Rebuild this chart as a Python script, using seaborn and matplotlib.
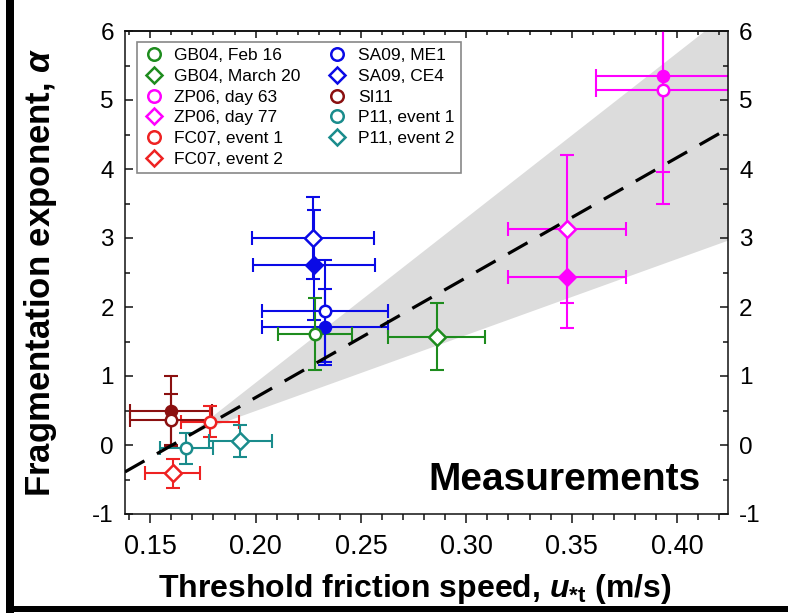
import matplotlib
matplotlib.use("Agg")
import matplotlib.pyplot as plt
import seaborn as sns
import numpy as np
from matplotlib.lines import Line2D
from matplotlib.patches import Rectangle
from matplotlib.ticker import MultipleLocator

# ---------------- data ----------------
labels = ["GB04, Feb 16", "GB04, March 20", "ZP06, day 63", "ZP06, day 77",
          "FC07, event 1", "FC07, event 2", "SA09, ME1", "SA09, CE4",
          "SI11", "P11, event 1", "P11, event 2"]
# open symbols (legend entries)
open_x = [0.228, 0.286, 0.3934, 0.3478, 0.1785, 0.1607, 0.233, 0.2273, 0.160, 0.1671, 0.1927]
open_y = [1.61, 1.57, 5.14, 3.13, 0.34, -0.41, 1.94, 3.00, 0.36, -0.05, 0.06]
open_xerr = [0.0176, 0.023, 0.0318, 0.0282, 0.0138, 0.013, 0.030, 0.029, 0.0195, 0.0127, 0.015]
open_yerr = [0.52, 0.49, 1.65, 1.07, 0.23, 0.21, 0.74, 0.60, 0.375, 0.23, 0.23]

# filled symbols (no legend entry)
filled_src = ["ZP06, day 63", "ZP06, day 77", "SA09, ME1", "SA09, CE4", "SI11"]
filled_x = [0.3934, 0.3478, 0.233, 0.2278, 0.160]
filled_y = [5.35, 2.43, 1.71, 2.61, 0.50]
filled_xerr = [0.0318, 0.0282, 0.030, 0.029, 0.0195]
filled_yerr = [1.39, 0.73, 0.55, 0.80, 0.50]

# model band & fit line (end points)
band_x = [0.168, 0.425]
band_lower = [0.15, 2.98]
band_upper = [0.15, 6.29]
fit_x = [0.138, 0.425]
fit_y = [-0.39, 4.60]

xticks = [0.15, 0.20, 0.25, 0.30, 0.35, 0.40]
yticks = [-1, 0, 1, 2, 3, 4, 5, 6]

# ---------------- styles ----------------
colors = {
    "GB04, Feb 16": "#1e8c1e", "GB04, March 20": "#1e8c1e",
    "ZP06, day 63": "#ff00ff", "ZP06, day 77": "#ff00ff",
    "FC07, event 1": "#ee2222", "FC07, event 2": "#ee2222",
    "SA09, ME1": "#0a0ae6", "SA09, CE4": "#0a0ae6",
    "SI11": "#8b1010",
    "P11, event 1": "#1a8c8c", "P11, event 2": "#1a8c8c",
}
markers = {
    "GB04, Feb 16": "o", "GB04, March 20": "D",
    "ZP06, day 63": "o", "ZP06, day 77": "D",
    "FC07, event 1": "o", "FC07, event 2": "D",
    "SA09, ME1": "o", "SA09, CE4": "D",
    "SI11": "o", "P11, event 1": "o", "P11, event 2": "D",
}

sns.set_style("ticks")
plt.rcParams["font.family"] = ["Liberation Sans", "DejaVu Sans"]
plt.rcParams["mathtext.fontset"] = "custom"
plt.rcParams["mathtext.it"] = "Liberation Sans:bold:italic"
plt.rcParams["mathtext.rm"] = "Liberation Sans:bold"
plt.rcParams["mathtext.bf"] = "Liberation Sans:bold"
for k in ["text.color", "axes.labelcolor", "xtick.color", "ytick.color", "axes.edgecolor"]:
    plt.rcParams[k] = "black"

fig = plt.figure(figsize=(7.88, 6.13), dpi=100)
W, H = 788, 613
ax = fig.add_axes([125 / W, 1 - 514 / H, 603 / W, 483 / H])

# band and fit line
ax.fill_between(band_x, band_lower, band_upper, color="#dcdcdc", lw=0, zorder=0)
sns.lineplot(x=fit_x, y=fit_y, ax=ax, color="black", lw=2.3, zorder=3,
             dashes=False, legend=False)
ax.lines[-1].set_dashes([7, 4.5])

ms_circle = 68
ms_diam = 74
ebkw = dict(fmt="none", elinewidth=1.5, capsize=5.3, capthick=1.5, zorder=2)

for src, x, y, xe, ye in zip(filled_src, filled_x, filled_y, filled_xerr, filled_yerr):
    c = colors[src]
    ax.errorbar([x], [y], xerr=[xe], yerr=[ye], ecolor=c, **ebkw)
for lab, x, y, xe, ye in zip(labels, open_x, open_y, open_xerr, open_yerr):
    c = colors[lab]
    ax.errorbar([x], [y], xerr=[xe], yerr=[ye], ecolor=c, **ebkw)

for src, x, y in zip(filled_src, filled_x, filled_y):
    c = colors[src]
    m = markers[src]
    sns.scatterplot(x=[x], y=[y], ax=ax, marker=m, s=ms_circle if m == "o" else ms_diam,
                    color=c, edgecolor=c, linewidth=1.5, zorder=4, legend=False)
for lab, x, y in zip(labels, open_x, open_y):
    c = colors[lab]
    m = markers[lab]
    sns.scatterplot(x=[x], y=[y], ax=ax, marker=m, s=ms_circle if m == "o" else ms_diam,
                    facecolor="white", edgecolor=c, linewidth=1.8, zorder=5, legend=False)

ax.set_xlim(0.138, 0.4242)
ax.set_ylim(-1, 6)
ax.set_xticks(xticks)
ax.set_xticklabels([f"{t:.2f}" for t in xticks])
ax.set_yticks(yticks)
ax.set_yticklabels([str(t) for t in yticks])
ax.xaxis.set_minor_locator(MultipleLocator(0.01))
ax.yaxis.set_minor_locator(MultipleLocator(0.5))

for sp in ax.spines.values():
    sp.set_linewidth(1.1)
    sp.set_color("#111111")
    sp.set_visible(True)

ax.tick_params(axis="x", which="both", direction="out", bottom=True, top=False,
               labelsize=19.5, pad=8, width=1.1, color="#111111", labelcolor="black")
ax.tick_params(axis="x", which="major", length=6.5)
ax.tick_params(axis="x", which="minor", length=4)
ax.tick_params(axis="y", which="both", direction="in", left=True, right=True,
               labelleft=True, labelright=True, labelsize=17.5, pad=8, width=1.1,
               color="#111111", labelcolor="black")
ax.tick_params(axis="y", which="major", length=6)
ax.tick_params(axis="y", which="minor", length=3.5)

top = ax.secondary_xaxis("top")
top.set_xticks(xticks)
top.xaxis.set_minor_locator(MultipleLocator(0.01))
top.tick_params(axis="x", which="both", direction="in", labeltop=False, width=1.1, color="#111111")
top.tick_params(axis="x", which="major", length=5)
top.tick_params(axis="x", which="minor", length=3)
top.spines["top"].set_linewidth(1.1)

ax.set_xlabel(r"Threshold friction speed, $u_{*\mathrm{t}}$ (m/s)", fontsize=23,
              fontweight="bold", color="black")
ax.xaxis.set_label_coords(0.481, -0.12)
ax.set_ylabel(r"Fragmentation exponent, $\alpha$", fontsize=25, fontweight="bold",
              labelpad=24, color="black")

ax.text(0.955, 0.05, "Measurements", transform=ax.transAxes, ha="right", va="baseline",
        fontsize=28, fontweight="bold", zorder=6, color="black")

handles = []
for lab in labels:
    handles.append(Line2D([], [], ls="none", marker=markers[lab],
                          markersize=9 if markers[lab] == "o" else 8.5,
                          markerfacecolor="white", markeredgecolor=colors[lab],
                          markeredgewidth=1.8))
leg = ax.legend(handles, labels, ncol=2, loc="upper left", bbox_to_anchor=(0.02, 0.977),
                borderaxespad=0, fontsize=12.5, frameon=True, fancybox=False,
                edgecolor="#888888", framealpha=1, labelspacing=0.32, handlelength=1.2,
                handletextpad=0.6, columnspacing=1.5, borderpad=0.35)
leg.get_frame().set_linewidth(1.2)
leg.set_zorder(7)
for t in leg.get_texts():
    t.set_color("black")

# figure frame (left and bottom heavy rules)
fig.add_artist(Rectangle((6 / W, 0), 8 / W, 1, transform=fig.transFigure,
                         color="black", lw=0, zorder=10))
fig.add_artist(Rectangle((6 / W, 1 / H), 1 - 6 / W, 6 / H, transform=fig.transFigure,
                         color="black", lw=0, zorder=10))

fig.savefig("out.png", dpi=100)
